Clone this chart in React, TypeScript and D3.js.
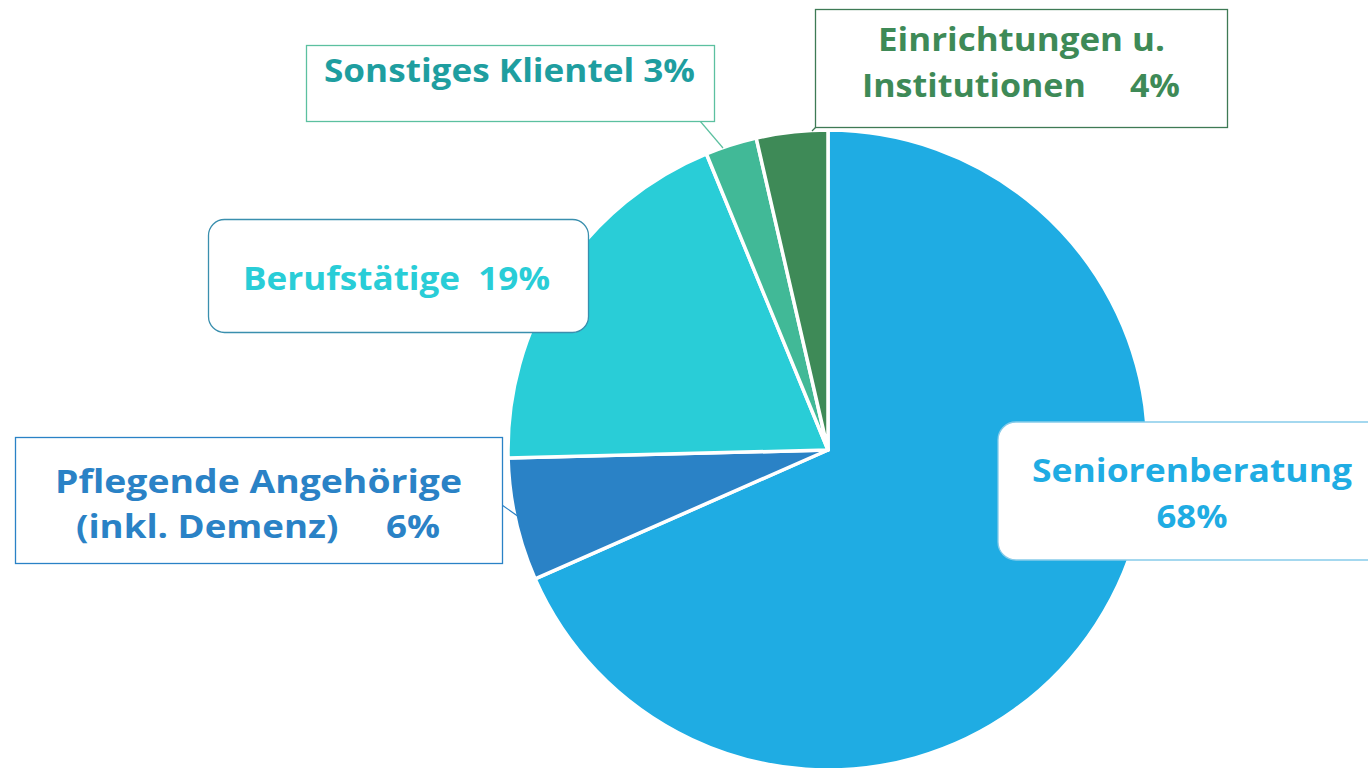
import React from "react";
import * as d3 from "d3";

const categories = ["Seniorenberatung", "Pflegende Angehörige", "Berufstätige", "Sonstiges Klientel", "Einrichtungen u. Institutionen"];
const values = [68.4, 6.2, 19.2, 2.6, 3.6];
const sliceColors = ["#1FACE3", "#2A82C6", "#29CDD7", "#41B997", "#3E8A57"];
const textColors = ["#1FACE3", "#2A82C6", "#29CDD7", "#1E9EA0", "#3E8A57"];
const borderColors = ["#86CBEA", "#2A82C6", "#3A8FAE", "#5CC0A0", "#3E7A55"];
const labelLines = [
  ["Seniorenberatung", "68%"],
  ["Pflegende Angehörige", "(inkl. Demenz)     6%"],
  ["Berufstätige  19%"],
  ["Sonstiges Klientel 3%"],
  ["Einrichtungen u.", "Institutionen     4%"],
];

// layout (positions/sizes)
const boxes = [
  { x: 998, y: 422, w: 400, h: 138, r: 18, lines: [{ cx: 1192, y: 482, len: 320 }, { cx: 1192, y: 528, len: 71 }] },
  { x: 15.5, y: 437.5, w: 487, h: 126, r: 0, lines: [{ cx: 258.5, y: 493, len: 407 }, { cx: 258, y: 538, len: 364 }] },
  { x: 208.5, y: 219.5, w: 380, h: 113, r: 16, lines: [{ cx: 396.5, y: 290, len: 307 }] },
  { x: 306.5, y: 45.5, w: 408, h: 76, r: 0, lines: [{ cx: 509.5, y: 82, len: 371 }] },
  { x: 815.5, y: 9.5, w: 412, h: 118, r: 0, lines: [{ cx: 1021.5, y: 51, len: 287 }, { cx: 1021, y: 97, len: 318 }] },
];
const leaders = [
  null,
  { x1: 495, y1: 500, x2: 519, y2: 517 },
  null,
  { x1: 700, y1: 121, x2: 723, y2: 148 },
  { x1: 835, y1: 108, x2: 812, y2: 131 },
];

export default function App() {
  const cx = 828, cy = 450, R = 320;
  const pie = d3.pie<number>().sort(null).value((d) => d);
  const arcs = pie(values);
  const arc = d3.arc<d3.PieArcDatum<number>>().innerRadius(0).outerRadius(R);
  return (
    <svg width={1368} height={768} style={{ position: "absolute", left: 0, top: 0, background: "#fff" }}>
      <g transform={`translate(${cx},${cy})`}>
        {arcs.map((a, i) => (
          <path key={categories[i]} d={arc(a) || ""} fill={sliceColors[i]} stroke="#fff" strokeWidth={3.5} strokeLinejoin="round" />
        ))}
      </g>
      {leaders.map((l, i) =>
        l ? <line key={"l" + i} x1={l.x1} y1={l.y1} x2={l.x2} y2={l.y2} stroke={borderColors[i]} strokeWidth={1.2} /> : null
      )}
      {boxes.map((b, i) => (
        <g key={"b" + i}>
          <rect x={b.x} y={b.y} width={b.w} height={b.h} rx={b.r} ry={b.r} fill="#fff" stroke={borderColors[i]} strokeWidth={1.3} />
          {labelLines[i].map((t, j) => (
            <text
              key={j}
              x={b.lines[j].cx}
              y={b.lines[j].y}
              textAnchor="middle"
              fill={textColors[i]}
              fontFamily="'Open Sans', sans-serif"
              fontWeight={700}
              fontSize={33}
              textLength={b.lines[j].len}
              lengthAdjust="spacingAndGlyphs"
              style={{ whiteSpace: "pre" }}
            >
              {t}
            </text>
          ))}
        </g>
      ))}
    </svg>
  );
}
